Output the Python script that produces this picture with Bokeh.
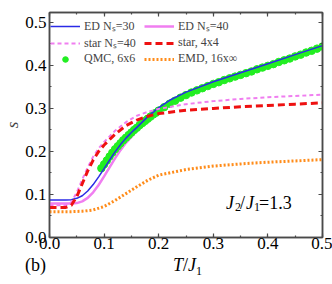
import math
from bokeh.plotting import figure
from bokeh.layouts import column
from bokeh.models import (Range1d, LinearAxis, SingleIntervalTicker, Legend,
                          LegendItem, Label, Div, PrintfTickFormatter,
                          CustomLabelingPolicy)
from bokeh.embed import file_html
from bokeh.resources import INLINE

# ---------------- data ----------------
ed30_T = [0.0, 0.03, 0.04, 0.05, 0.06, 0.07, 0.08, 0.09, 0.10, 0.11, 0.12, 0.13,
          0.14, 0.15, 0.16, 0.18, 0.20, 0.22, 0.25, 0.30, 0.35, 0.40, 0.45, 0.50]
ed30_s = [0.087, 0.087, 0.088, 0.091, 0.097, 0.108, 0.123, 0.141, 0.160, 0.180,
          0.199, 0.216, 0.231, 0.244, 0.256, 0.281, 0.302, 0.319, 0.338, 0.362,
          0.383, 0.404, 0.425, 0.446]

ed40_T = [0.0, 0.04, 0.05, 0.06, 0.07, 0.08, 0.09, 0.10, 0.11, 0.12, 0.13, 0.14,
          0.16, 0.18, 0.20, 0.25, 0.30, 0.40, 0.50]
ed40_s = [0.079, 0.079, 0.080, 0.084, 0.092, 0.105, 0.122, 0.142, 0.163, 0.184,
          0.203, 0.220, 0.248, 0.272, 0.293, 0.332, 0.358, 0.400, 0.444]

star40_T = [0.0, 0.03, 0.04, 0.05, 0.06, 0.07, 0.08, 0.09, 0.10, 0.12, 0.14, 0.16,
            0.18, 0.20, 0.25, 0.30, 0.35, 0.40, 0.45, 0.50]
star40_s = [0.075, 0.075, 0.082, 0.105, 0.135, 0.163, 0.188, 0.207, 0.222, 0.248,
            0.268, 0.283, 0.292, 0.299, 0.310, 0.317, 0.322, 0.326, 0.329, 0.332]

star44_T = [0.0, 0.03, 0.04, 0.05, 0.06, 0.07, 0.08, 0.09, 0.10, 0.12, 0.14, 0.16,
            0.18, 0.20, 0.25, 0.30, 0.35, 0.40, 0.45, 0.50]
star44_s = [0.070, 0.070, 0.075, 0.095, 0.125, 0.155, 0.180, 0.200, 0.215, 0.240,
            0.260, 0.273, 0.282, 0.288, 0.296, 0.300, 0.304, 0.307, 0.310, 0.313]

qmc_T = [0.095, 0.100, 0.105, 0.110, 0.115, 0.120, 0.125, 0.130, 0.135, 0.140,
         0.145, 0.150, 0.155, 0.160, 0.165, 0.170, 0.175, 0.180, 0.185, 0.190,
         0.195, 0.200, 0.21, 0.22, 0.23, 0.24, 0.25, 0.26, 0.27, 0.28, 0.29,
         0.30, 0.31, 0.32, 0.33, 0.34, 0.35, 0.36, 0.37, 0.38, 0.39, 0.40, 0.41,
         0.42, 0.43, 0.44, 0.45, 0.46, 0.47, 0.48, 0.49, 0.50]
qmc_s = [0.161, 0.170, 0.179, 0.188, 0.197, 0.205, 0.212, 0.219, 0.226, 0.232,
         0.238, 0.244, 0.250, 0.255, 0.261, 0.266, 0.271, 0.276, 0.281, 0.286,
         0.290, 0.295, 0.303, 0.311, 0.318, 0.325, 0.331, 0.337, 0.342, 0.347,
         0.352, 0.357, 0.361, 0.366, 0.370, 0.374, 0.378, 0.382, 0.386, 0.391,
         0.395, 0.399, 0.403, 0.408, 0.412, 0.416, 0.421, 0.425, 0.430, 0.434,
         0.439, 0.444]

emd_T = [0.0, 0.04, 0.06, 0.08, 0.10, 0.12, 0.14, 0.16, 0.18, 0.20, 0.25, 0.30,
         0.35, 0.40, 0.45, 0.50]
emd_s = [0.060, 0.060, 0.061, 0.064, 0.072, 0.086, 0.102, 0.118, 0.133, 0.145,
         0.158, 0.166, 0.171, 0.175, 0.178, 0.181]

labels = ["ED N\u209b=30", "ED N\u209b=40", "star N\u209b=40", "star, 4x4",
          "QMC, 6x6", "EMD, 16x\u221e"]

# ---------------- styling ----------------
AX = "#4a4a4a"
SERIF = "Liberation Serif"
BLUE = "#2a2ae6"
VIOLET = "#f07ef0"
RED = "#ee1111"
GREEN = "#22ee22"
ORANGE = "#ff8c1a"

fig = figure(width=332, height=257, output_backend="svg", toolbar_location=None,
             x_range=Range1d(0, 0.5), y_range=Range1d(0, 0.523),
             min_border_left=44, min_border_right=10, min_border_top=12,
             min_border_bottom=20)
fig.grid.visible = False
fig.outline_line_color = AX
fig.outline_line_width = 1.5

no_labels = CustomLabelingPolicy(code="""
    for (const i of indices) indices.unset(i)
    return indices
""")


def style_axis(ax, show_labels):
    ax.ticker = SingleIntervalTicker(interval=0.1, num_minor_ticks=2)
    ax.formatter = PrintfTickFormatter(format="%.1f")
    ax.axis_line_color = AX
    ax.axis_line_width = 1.5
    ax.major_tick_line_color = AX
    ax.minor_tick_line_color = AX
    ax.major_tick_line_width = 1.2
    ax.minor_tick_line_width = 1.2
    ax.major_tick_in = 4
    ax.major_tick_out = 0
    ax.minor_tick_in = 2
    ax.minor_tick_out = 0
    ax.major_label_text_font = SERIF
    ax.major_label_text_color = "black"
    if show_labels:
        ax.major_label_text_font_size = "17px"
    else:
        ax.major_label_policy = no_labels
        ax.major_label_text_font_size = "1px"
        ax.major_label_standoff = 0


style_axis(fig.xaxis[0], True)
style_axis(fig.yaxis[0], True)
fig.xaxis[0].major_label_standoff = 0
fig.yaxis[0].major_label_standoff = 3
fig.yaxis[0].axis_label = "s"
fig.yaxis[0].axis_label_text_font = SERIF
fig.yaxis[0].axis_label_text_font_style = "italic"
fig.yaxis[0].axis_label_text_font_size = "17px"
fig.yaxis[0].axis_label_standoff = 0
top = LinearAxis()
right = LinearAxis()
style_axis(top, False)
style_axis(right, False)
fig.add_layout(top, "above")
fig.add_layout(right, "right")

# ---------------- series ----------------
r_ed40 = fig.line(ed40_T, ed40_s, line_color=VIOLET, line_width=2.5)
r_qmc = fig.scatter(qmc_T, qmc_s, size=7.5, fill_color=GREEN, line_color=GREEN)
r_ed30 = fig.line(ed30_T, ed30_s, line_color=BLUE, line_width=1.5)
r_star40 = fig.line(star40_T, star40_s, line_color=VIOLET, line_width=2,
                    line_dash="4 3")
r_star44 = fig.line(star44_T, star44_s, line_color=RED, line_width=3,
                    line_dash="7 4")
r_emd = fig.line(emd_T, emd_s, line_color=ORANGE, line_width=3, line_dash="2 2")

legend = Legend(items=[LegendItem(label=labels[0], renderers=[r_ed30]),
                       LegendItem(label=labels[1], renderers=[r_ed40]),
                       LegendItem(label=labels[2], renderers=[r_star40]),
                       LegendItem(label=labels[3], renderers=[r_star44]),
                       LegendItem(label=labels[4], renderers=[r_qmc]),
                       LegendItem(label=labels[5], renderers=[r_emd])],
                location=(1, 171), orientation="horizontal", ncols=2,
                label_text_font=SERIF, label_text_font_size="12px",
                glyph_width=30, glyph_height=14, label_height=14,
                label_standoff=4, spacing=0, padding=0, margin=0,
                label_width=60,
                background_fill_alpha=0, border_line_color=None)
fig.add_layout(legend)

# ---------------- in-frame text: J2/J1=1.3 ----------------
def lab(x, y, text, size, dx=0, dy=0, italic=False):
    fig.add_layout(Label(x=x, y=y, text=text, x_offset=dx, y_offset=dy,
                         text_font=SERIF, text_font_size=size,
                         text_font_style="italic" if italic else "normal",
                         text_color="black", text_baseline="alphabetic"))

jx, jy = 0.3233, 0.081
lab(jx, jy, "J", "18px", 0, 0, True)
lab(jx, jy, "2", "12px", 9, -4)
lab(jx, jy, "/", "18px", 14, 0)
lab(jx, jy, "J", "18px", 20, 0, True)
lab(jx, jy, "1", "12px", 28, -4)
lab(jx, jy, "=1.3", "18px", 33, 0)

# ---------------- text below the axis: (b) and T/J1 ----------------
below_html = (
    "<div style=\"position:relative;width:332px;height:27px;"
    "font-family:'Liberation Serif',serif;font-size:18px;line-height:18px;"
    "color:black\">"
    "<span style=\"position:absolute;left:25px;top:-1px\">(b)</span>"
    "<span style=\"position:absolute;left:173px;top:-1px\"><i>T</i>/<i>J</i>"
    "<span style=\"font-size:12px;position:relative;top:4px\">1</span></span>"
    "</div>"
)
below = Div(text=below_html, width=332, height=27, margin=0)

p = column(fig, below, spacing=0)

open("out.html", "w").write(file_html(p, INLINE))
